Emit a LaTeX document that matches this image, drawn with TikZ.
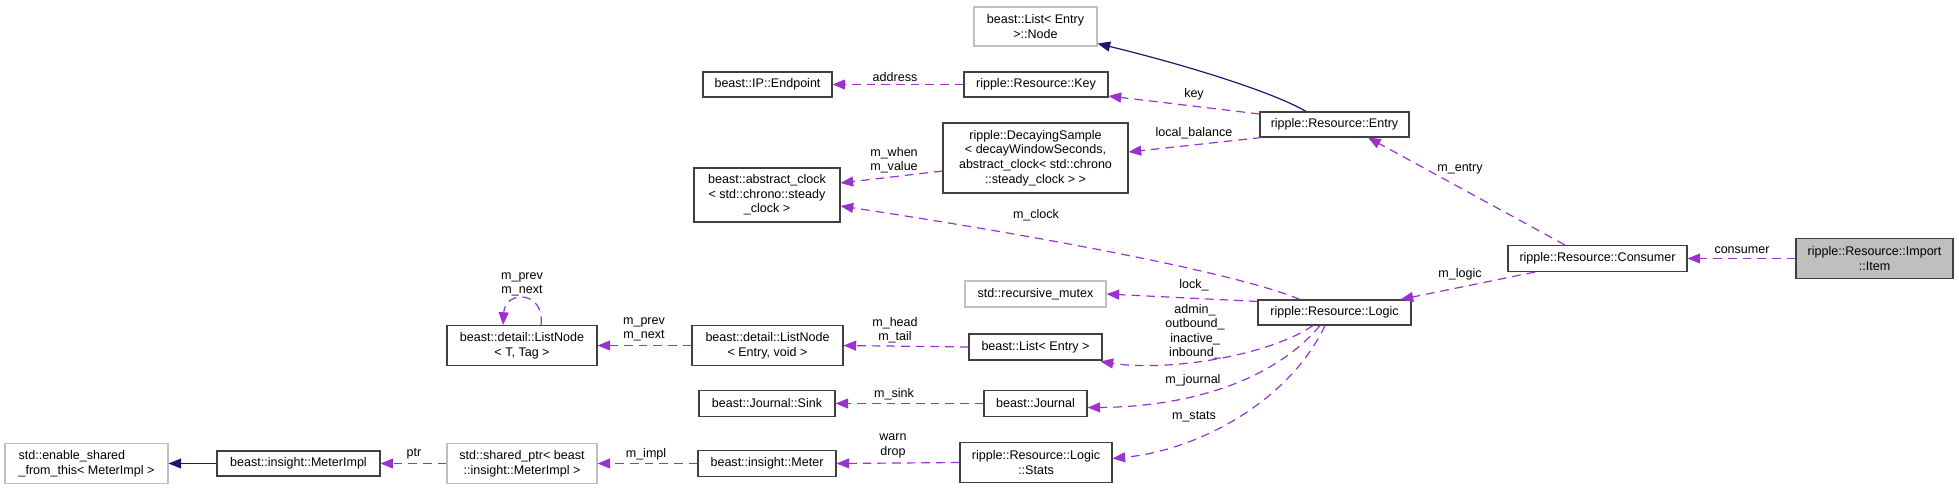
\documentclass[tikz,border=0pt]{standalone}
\usepackage{fontspec}
\setmainfont{Liberation Sans}
\usetikzlibrary{arrows.meta,calc}
\definecolor{purp}{HTML}{9A32CD}
\definecolor{navyb}{HTML}{191970}
\definecolor{boxdark}{HTML}{404040}
\definecolor{boxlight}{HTML}{BFBFBF}
\begin{document}
\begin{tikzpicture}[x=0.75pt,y=-0.75pt,
  every node/.style={font=\fontsize{9.4}{10.9}\selectfont},
  cls/.style={draw=boxdark, line width=0.8pt, fill=white, inner sep=0pt, align=center},
  ext/.style={cls, draw=boxlight},
  cur/.style={cls, fill=boxlight},
  mem/.style={draw=purp, line width=0.9pt, dash pattern=on 6.5pt off 4.5pt, -{Triangle[length=9.5pt,width=7.5pt]}},
  inh/.style={draw=navyb, line width=0.9pt, -{Triangle[length=9.5pt,width=7.5pt]}},
  lbl/.style={inner sep=0pt, align=center}
]
\useasboundingbox (0,0) rectangle (1959,489);

% nodes
\node[ext, minimum width=92.25pt, minimum height=29.25pt] (node) at (1035.5,26.5) {beast::List< Entry\\>::Node};
\node[cls, minimum width=96.75pt, minimum height=18.75pt] (endpoint) at (767.5,84.5) {beast::IP::Endpoint};
\node[cls, minimum width=108pt, minimum height=18.75pt] (key) at (1036,84.5) {ripple::Resource::Key};
\node[cls, minimum width=111.75pt, minimum height=18.75pt] (entry) at (1334.5,124.5) {ripple::Resource::Entry};
\node[cls, minimum width=138.75pt, minimum height=52.5pt] (decay) at (1035.5,158) {ripple::DecayingSample\\< decayWindowSeconds,\\ abstract\_clock< std::chrono\\::steady\_clock > >};
\node[cls, minimum width=109.5pt, minimum height=40.5pt] (clock) at (767,195) {beast::abstract\_clock\\< std::chrono::steady\\\_clock >};
\node[cls, minimum width=134.25pt, minimum height=19.5pt] (consumer) at (1597.5,258.5) {ripple::Resource::Consumer};
\node[cur, minimum width=117.75pt, minimum height=30pt] (item) at (1874.5,258.5) {ripple::Resource::Import\\::Item};
\node[ext, minimum width=105.75pt, minimum height=19.5pt] (mutex) at (1035.5,294) {std::recursive\_mutex};
\node[cls, minimum width=114.75pt, minimum height=18.75pt] (logic) at (1334.5,312.5) {ripple::Resource::Logic};
\node[cls, minimum width=112.5pt, minimum height=30pt] (lnT) at (522,345.5) {beast::detail::ListNode\\< T, Tag >};
\node[cls, minimum width=113.25pt, minimum height=30pt] (lnE) at (767.5,345.5) {beast::detail::ListNode\\< Entry, void >};
\node[cls, minimum width=99.75pt, minimum height=19.5pt] (listE) at (1035.5,347) {beast::List< Entry >};
\node[cls, minimum width=102pt, minimum height=19.5pt] (sink) at (767,403.5) {beast::Journal::Sink};
\node[cls, minimum width=77.25pt, minimum height=19.5pt] (journal) at (1035.5,403.5) {beast::Journal};
\node[ext, minimum width=122.25pt, minimum height=30pt, align=left] (enable) at (86.5,463.5) {std::enable\_shared\\\_from\_this< MeterImpl >};
\node[cls, minimum width=122.25pt, minimum height=18.75pt] (meterimpl) at (298.5,463.5) {beast::insight::MeterImpl};
\node[ext, minimum width=112.5pt, minimum height=30pt] (sptr) at (522,463.5) {std::shared\_ptr< beast\\::insight::MeterImpl >};
\node[cls, minimum width=103.5pt, minimum height=19.5pt] (meter) at (767,463.5) {beast::insight::Meter};
\node[cls, minimum width=114pt, minimum height=30pt] (stats) at (1036,462.5) {ripple::Resource::Logic\\::Stats};

% inheritance
\draw[inh] ($(entry.north)+(-28.5,0)$) .. controls (1275,93) and (1190,66) .. ($(node.south east)+(0,-3)$);
\draw[inh] (meterimpl.west) -- (enable.east);

% members
\draw[mem] (key.west) -- (endpoint.east);
\node[lbl] (laddress) at (895,77) {address};
\draw[mem] ($(entry.west)+(0,-10.5)$) -- ($(key.east)+(0,11.5)$);
\node[lbl] (lkey) at (1194,94) {key};
\draw[mem] ($(entry.south west)+(2,0)$) -- ($(decay.east)+(0,-6)$);
\node[lbl] (llocal) at (1194,133) {local\_balance};
\draw[mem] ($(decay.west)+(0,13)$) -- ($(clock.east)+(0,-12)$);
\node[lbl] (lwhen) at (894,160) {m\_when\\m\_value};
\draw[mem] ($(logic.north)+(-34.5,0)$) .. controls (1230,270) and (1000,230) .. ($(clock.east)+(0,11)$);
\node[lbl] (lclock) at (1036,215) {m\_clock};
\draw[mem] (item.west) -- (consumer.east);
\node[lbl] (lconsumer) at (1742,250) {consumer};
\draw[mem] ($(consumer.north)+(-32.5,0)$) -- ($(entry.south)+(33.5,0)$);
\node[lbl] (lentry) at (1460,169) {m\_entry};
\draw[mem] ($(consumer.south)+(-62.5,0)$) -- ($(logic.north east)+(-11,0)$);
\node[lbl] (llogic) at (1460,274) {m\_logic};
\draw[mem] ($(logic.north west)+(0,2)$) -- (mutex.east);
\node[lbl] (llock) at (1194,285) {lock\_};
\draw[mem] ($(logic.south)+(-21.5,0)$) .. controls (1270,355) and (1170,372) .. ($(listE.south east)+(-2,1)$);
\node[lbl] (ladmin) at (1195,331.5) {admin\_\\outbound\_\\inactive\_\\inbound\_};
\draw[mem] ($(logic.south)+(-14.5,0)$) .. controls (1270,385) and (1180,407) .. ($(journal.east)+(0,4)$);
\node[lbl] (ljournal) at (1193,380) {m\_journal};
\draw[mem] ($(logic.south)+(-9.5,0)$) .. controls (1290,400) and (1200,450) .. ($(stats.east)+(0,-4)$);
\node[lbl] (lstats) at (1194,417) {m\_stats};
\draw[mem] (lnE.west) -- (lnT.east);
\node[lbl] (lprevnext) at (644,329.5) {m\_prev\\m\_next};
\draw[mem] (listE.west) -- (lnE.east);
\node[lbl] (lheadtail) at (895,330) {m\_head\\m\_tail};
\draw[mem] ($(lnT.north)+(19,0)$) .. controls (545,290) and (505,290) .. ($(lnT.north)+(-19,0)$);
\node[lbl] (lselfloop) at (522,284.5) {m\_prev\\m\_next};
\draw[mem] (journal.west) -- (sink.east);
\node[lbl] (lsink) at (894,394) {m\_sink};
\draw[mem] (stats.west) -- (meter.east);
\node[lbl] (lwarn) at (893,446) {warn\\drop};
\draw[mem] (meter.west) -- (sptr.east);
\node[lbl] (limpl) at (646,454) {m\_impl};
\draw[mem] (sptr.west) -- (meterimpl.east);
\node[lbl] (lptr) at (414,454) {ptr};
\end{tikzpicture}
\end{document}
